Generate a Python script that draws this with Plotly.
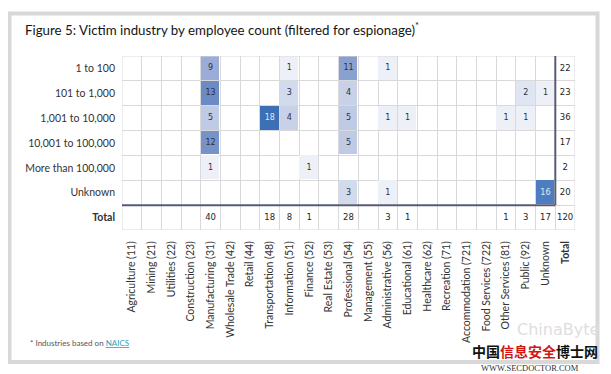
import plotly.graph_objects as go

# ---------------- data ----------------
industries = [
    "Agriculture (11)", "Mining (21)", "Utilities (22)", "Construction (23)",
    "Manufacturing (31)", "Wholesale Trade (42)", "Retail (44)", "Transportation (48)",
    "Information (51)", "Finance (52)", "Real Estate (53)", "Professional (54)",
    "Management (55)", "Administrative (56)", "Educational (61)", "Healthcare (62)",
    "Recreation (71)", "Accommodation (721)", "Food Services (722)",
    "Other Services (81)", "Public (92)", "Unknown",
]
employee_sizes = ["1 to 100", "101 to 1,000", "1,001 to 10,000",
                  "10,001 to 100,000", "More than 100,000", "Unknown"]

row_1_to_100 = [0, 0, 0, 0, 9, 0, 0, 0, 1, 0, 0, 11, 0, 1, 0, 0, 0, 0, 0, 0, 0, 0]
row_101_to_1000 = [0, 0, 0, 0, 13, 0, 0, 0, 3, 0, 0, 4, 0, 0, 0, 0, 0, 0, 0, 0, 2, 1]
row_1001_to_10000 = [0, 0, 0, 0, 5, 0, 0, 18, 4, 0, 0, 5, 0, 1, 1, 0, 0, 0, 0, 1, 1, 0]
row_10001_to_100000 = [0, 0, 0, 0, 12, 0, 0, 0, 0, 0, 0, 5, 0, 0, 0, 0, 0, 0, 0, 0, 0, 0]
row_more_than_100000 = [0, 0, 0, 0, 1, 0, 0, 0, 0, 1, 0, 0, 0, 0, 0, 0, 0, 0, 0, 0, 0, 0]
row_unknown = [0, 0, 0, 0, 0, 0, 0, 0, 0, 0, 0, 3, 0, 1, 0, 0, 0, 0, 0, 0, 0, 16]

row_totals = [22, 23, 36, 17, 2, 20]
column_totals = [0, 0, 0, 0, 40, 0, 0, 18, 8, 1, 0, 28, 0, 3, 1, 0, 0, 0, 0, 1, 3, 17]
grand_total = 120

total_label = "Total"

# ---------------- build ----------------
rows = [row_1_to_100, row_101_to_1000, row_1001_to_10000,
        row_10001_to_100000, row_more_than_100000, row_unknown]
n_cols = len(industries)
n_rows = len(employee_sizes)

z = [[(v if v else None) for v in r] for r in rows]

colorscale = [
    [0.0, "#edf0f7"], [0.059, "#dfe5f2"], [0.118, "#d2daed"], [0.176, "#c8d1e8"],
    [0.235, "#bfcae5"], [0.47, "#9badd6"], [0.588, "#8aa1d0"], [0.647, "#7593c9"],
    [0.706, "#6c8bc5"], [0.882, "#4d7dc1"], [1.0, "#3b6fb6"],
]

fig = go.Figure()
fig.add_trace(go.Heatmap(
    z=z, x=list(range(n_cols)), y=list(range(n_rows)),
    colorscale=colorscale, zmin=1, zmax=18, showscale=False,
    xgap=1, ygap=1, hoverinfo="skip",
))

# cell values
tx, ty, tt, tc = [], [], [], []
for ri, r in enumerate(rows):
    for ci, v in enumerate(r):
        if v:
            tx.append(ci); ty.append(ri); tt.append(str(v))
            tc.append("#e4e8f2" if v >= 15 else "#2e3140")
fig.add_trace(go.Scatter(x=tx, y=ty, text=tt, mode="text",
                         textfont=dict(family="DejaVu Sans", size=8, color=tc),
                         hoverinfo="skip", showlegend=False))

# totals
ttx, tty, ttt = [], [], []
for ri, v in enumerate(row_totals):
    ttx.append(n_cols); tty.append(ri); ttt.append(str(v))
for ci, v in enumerate(column_totals):
    if v:
        ttx.append(ci); tty.append(n_rows); ttt.append(str(v))
ttx.append(n_cols); tty.append(n_rows); ttt.append(str(grand_total))
fig.add_trace(go.Scatter(x=ttx, y=tty, text=ttt, mode="text",
                         textfont=dict(family="DejaVu Sans", size=8.5, color="#1e1e24"),
                         hoverinfo="skip", showlegend=False))

grid_color = "#d9d9dc"
label_font = dict(family="Lato", size=10.5, color="#333333")

fig.update_xaxes(
    range=[-0.5, n_cols + 0.5],
    tickmode="array", tickvals=list(range(n_cols + 1)),
    ticktext=industries + ["<b>" + total_label + "</b>"],
    tickangle=-90, tickfont=label_font, ticklabelstandoff=8,
    showgrid=False, zeroline=False, showline=False, ticks="",
    minor=dict(tick0=0.5, dtick=1, showgrid=True, gridcolor=grid_color, gridwidth=1, ticks=""),
    fixedrange=True,
)
fig.update_yaxes(
    range=[n_rows + 0.5, -0.5],
    tickmode="array", tickvals=list(range(n_rows + 1)),
    ticktext=employee_sizes + ["<b>" + total_label + "</b>"],
    tickfont=label_font, ticklabelstandoff=6,
    showgrid=False, zeroline=False, showline=False, ticks="",
    minor=dict(tick0=0.5, dtick=1, showgrid=True, gridcolor=grid_color, gridwidth=1, ticks=""),
    fixedrange=True,
)

# outer grid border
fig.add_shape(type="rect", xref="x", yref="y", x0=-0.5, x1=n_cols + 0.5,
              y0=-0.5, y1=n_rows + 0.5, line=dict(color=grid_color, width=1), layer="above")
# separators for totals
sep_color = "#575b74"
fig.add_shape(type="line", xref="x", yref="y", x0=-0.5, x1=n_cols - 0.5,
              y0=n_rows - 0.5, y1=n_rows - 0.5, line=dict(color=sep_color, width=2), layer="above")
fig.add_shape(type="line", xref="x", yref="y", x0=n_cols - 0.5, x1=n_cols - 0.5,
              y0=-0.5, y1=n_rows - 0.5, line=dict(color=sep_color, width=2), layer="above")

# page has an 8px body margin; compensate so the figure lands where the reference is
OFF = 8
W, H = 611 - OFF, 374 - OFF
L, R, T, B = 114, 36, 48, 144
pw, ph = W - L - R, H - T - B
def px(x):
    return (x - OFF - L) / pw
def py(y):
    return (H - B - (y - OFF)) / ph

fig.add_shape(type="rect", xref="paper", yref="paper",
              x0=px(9.5), x1=px(597.5), y0=py(13.5), y1=py(362),
              line=dict(color="#d8d8d8", width=4), layer="below")

fig.add_annotation(xref="paper", yref="paper", x=px(28), y=py(343),
                   xanchor="left", yanchor="middle", showarrow=False,
                   text='* Industries based on <span style="color:#2aa0b4"><u>NAICS</u></span>',
                   font=dict(family="Lato", size=8, color="#555555"))

# watermark
fig.add_annotation(xref="paper", yref="paper", x=px(558), y=py(329),
                   xanchor="center", yanchor="middle", showarrow=False,
                   text="ChinaByte", font=dict(family="DejaVu Sans", size=16, color="#dedede"))
fig.add_annotation(xref="paper", yref="paper", x=px(535), y=py(351),
                   xanchor="center", yanchor="middle", showarrow=False,
                   text='<b>中国<span style="color:#d51515">信息安全</span>博士网</b>',
                   font=dict(family="Noto Sans CJK SC", size=14, color="#111111"))
fig.add_annotation(xref="paper", yref="paper", x=px(530), y=py(368),
                   xanchor="center", yanchor="middle", showarrow=False,
                   text="WWW.SECDOCTOR.COM",
                   font=dict(family="Liberation Serif", size=8.5, color="#333333"))

fig.update_layout(
    width=W, height=H,
    margin=dict(l=L, r=R, t=T, b=B, autoexpand=False),
    paper_bgcolor="white", plot_bgcolor="white",
    showlegend=False,
    title=dict(text="Figure 5: Victim industry by employee count (filtered for espionage)<sup>*</sup>",
               x=(25 - OFF) / W, xanchor="left", xref="container",
               y=1 - (30 - OFF) / H, yanchor="middle", yref="container",
               font=dict(family="Lato", size=13.3, color="#151515")),
)

fig.write_html("out.html")
